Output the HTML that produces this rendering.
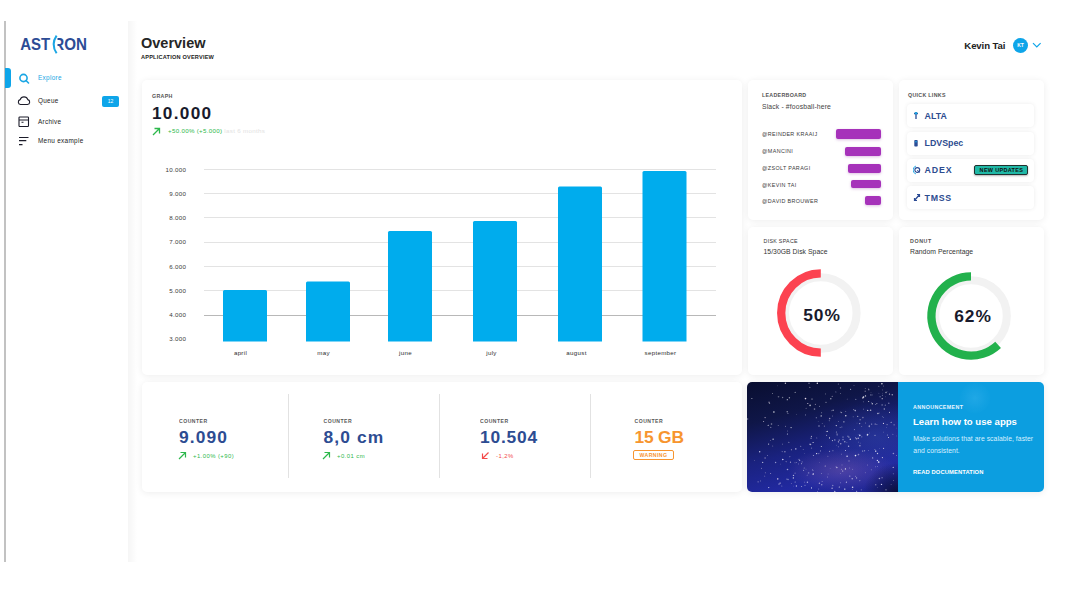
<!DOCTYPE html>
<html><head><meta charset="utf-8">
<style>
*{margin:0;padding:0;box-sizing:border-box}
html,body{width:1068px;height:598px;overflow:hidden;background:#fff;font-family:"Liberation Sans",sans-serif;color:#1c1c2a}
.abs{position:absolute;white-space:nowrap;line-height:1}
#vline{position:absolute;left:4px;top:21px;width:2px;height:541px;background:#c2c2c2}
#side{position:absolute;left:6px;top:21px;width:122px;height:541px;background:#fff}
#sideshadow{position:absolute;left:127px;top:21px;width:10px;height:541px;background:linear-gradient(to right,rgba(0,0,0,0.045),rgba(0,0,0,0))}
.card{position:absolute;background:#fff;border-radius:5px;box-shadow:0 1px 7px rgba(0,0,0,0.075)}
.lbl{font-size:5.3px;font-weight:bold;color:#555;letter-spacing:0.3px}
.nav{font-size:6.4px;color:#222;letter-spacing:0.3px}
.ql{position:absolute;left:8px;width:127px;height:23px;border-radius:4px;background:#fff;box-shadow:0 0 4px rgba(0,0,0,0.08)}
.qlt{position:absolute;left:17.6px;top:7.5px;font-size:8.8px;font-weight:bold;color:#2d4c90;line-height:1;letter-spacing:0px}
.lbn{position:absolute;left:14px;font-size:5.4px;color:#3a3a3a;line-height:1;white-space:nowrap;letter-spacing:0.36px}
.lbb{position:absolute;right:12px;height:8px;border-radius:2px;background:#a632ba;box-shadow:0 1px 3px rgba(120,0,140,0.25)}
.cl{font-size:5.1px;color:#3a3a3a;font-weight:bold;letter-spacing:0.5px;opacity:0.85}
.cv{font-size:17.4px;font-weight:bold;color:#2d4c92;letter-spacing:1.1px}
.cd{font-size:5.9px;color:#2db84c;letter-spacing:0.45px}
</style></head><body>
<div id="vline"></div>
<div id="sideshadow"></div>
<div id="side"></div>

<!-- logo -->
<svg class="abs" style="left:0;top:0" width="100" height="60" viewBox="0 0 100 60">
<g font-family="Liberation Sans" font-weight="bold" font-size="16.3" fill="#2c4c95">
<text x="20.2" y="49.8" textLength="30" lengthAdjust="spacingAndGlyphs">AST</text>
<text x="53.2" y="49.8" textLength="33.7" lengthAdjust="spacingAndGlyphs">RON</text>
</g>
<rect x="52.5" y="37" width="5" height="14" fill="#fff"/>
<path d="M56.6 35.6 Q50.6 44.4 56.6 53.2" fill="none" stroke="#1aa6e4" stroke-width="2"/>
</svg>

<!-- nav -->
<div class="abs" style="left:5px;top:67.6px;width:6px;height:20.4px;background:#0ea5e9;border-radius:0 3px 3px 0"></div>
<svg class="abs" style="left:18px;top:73px" width="13" height="11" viewBox="0 0 13 11"><circle cx="5.5" cy="5" r="3.6" fill="none" stroke="#1aa6e4" stroke-width="1.6"/><path d="M8 7.5 L10.5 10" stroke="#1aa6e4" stroke-width="1.6" stroke-linecap="round"/></svg>
<div class="abs nav" style="left:38px;top:75px;color:#1aa6e4">Explore</div>
<svg class="abs" style="left:17px;top:95px" width="14" height="11" viewBox="0 0 14 11"><path d="M3.5 9.5 H10.5 A2.5 2.5 0 0 0 10.8 4.6 A4 4 0 0 0 3.2 4.6 A2.5 2.5 0 0 0 3.5 9.5 Z" fill="none" stroke="#1c1c2a" stroke-width="1.1"/></svg>
<div class="abs nav" style="left:38px;top:98px">Queue</div>
<div class="abs" style="left:102px;top:96px;width:17px;height:11px;border-radius:2px;background:#0ea5e9;color:#fff;font-size:5px;text-align:center;line-height:11px">12</div>
<svg class="abs" style="left:18px;top:116px" width="12" height="12" viewBox="0 0 12 12"><rect x="1" y="1" width="9.5" height="9.5" rx="0.8" fill="none" stroke="#1c1c2a" stroke-width="1.1"/><path d="M1 4 H10.5 M3.5 6.3 H5.5" stroke="#1c1c2a" stroke-width="1.1"/></svg>
<div class="abs nav" style="left:38px;top:118.5px">Archive</div>
<svg class="abs" style="left:18px;top:136px" width="12" height="10" viewBox="0 0 12 10"><path d="M1 1.5 H10.5 M1 4.6 H8.3 M1 8.6 H4.5" stroke="#1c1c2a" stroke-width="1.1"/></svg>
<div class="abs nav" style="left:38px;top:138px">Menu example</div>

<!-- header -->
<div class="abs" style="left:141px;top:36px;font-size:14.5px;font-weight:bold;color:#262626">Overview</div>
<div class="abs" style="left:141px;top:54.5px;font-size:5.6px;font-weight:bold;color:#222;letter-spacing:0.2px">APPLICATION OVERVIEW</div>
<div class="abs" style="left:964.3px;top:40.6px;font-size:9.6px;font-weight:bold;color:#222;letter-spacing:-0.1px">Kevin Tai</div>
<div class="abs" style="left:1013px;top:38px;width:15px;height:15px;border-radius:50%;background:#0ea5e9;color:#fff;font-size:5px;font-weight:bold;text-align:center;line-height:15px">KT</div>
<svg class="abs" style="left:1032px;top:42px" width="10" height="7" viewBox="0 0 10 7"><path d="M1 1.2 L4.8 5 L8.6 1.2" fill="none" stroke="#0ea5e9" stroke-width="1.2"/></svg>

<!-- graph card -->
<div class="card" style="left:142px;top:80px;width:600px;height:295px">
  <div class="abs lbl" style="left:10px;top:13.5px">GRAPH</div>
  <div class="abs" style="left:10px;top:25px;font-size:17.2px;font-weight:bold;color:#191a2c;letter-spacing:1.3px">10.000</div>
  <svg class="abs" style="left:10px;top:47px" width="9" height="9" viewBox="0 0 9 9"><path d="M1 8 L7.5 1.5 M2.5 1.5 H7.5 V6.5" fill="none" stroke="#2db84c" stroke-width="1.3"/></svg>
  <div class="abs" style="left:26px;top:48.4px;font-size:6.2px;color:#2db84c;letter-spacing:0.3px">+50.00% (+5.000) <span style="color:#e2e2e2">last 6 months</span></div>
</div>
<svg class="abs" style="left:142px;top:80px" width="600" height="295" viewBox="142 80 600 295">
  <g stroke="#e3e3e3" stroke-width="1">
    <line x1="204" x2="716" y1="169.5" y2="169.5"/>
    <line x1="204" x2="716" y1="193.5" y2="193.5"/>
    <line x1="204" x2="716" y1="217.5" y2="217.5"/>
    <line x1="204" x2="716" y1="242.5" y2="242.5"/>
    <line x1="204" x2="716" y1="266.5" y2="266.5"/>
    <line x1="204" x2="716" y1="290.5" y2="290.5"/>
  </g>
  <line x1="204" x2="716" y1="315.5" y2="315.5" stroke="#b8b8b8" stroke-width="1"/>
  <g fill="#00aced">
    <path d="M223 341.5 V291.5 Q223 290 224.5 290 H265.5 Q267 290 267 291.5 V341.5 Z"/>
    <path d="M306 341.5 V283 Q306 281.5 307.5 281.5 H348.5 Q350 281.5 350 283 V341.5 Z"/>
    <path d="M388 341.5 V232.5 Q388 231 389.5 231 H430.5 Q432 231 432 232.5 V341.5 Z"/>
    <path d="M473 341.5 V222.5 Q473 221 474.5 221 H515.5 Q517 221 517 222.5 V341.5 Z"/>
    <path d="M558 341.5 V188 Q558 186.5 559.5 186.5 H600.5 Q602 186.5 602 188 V341.5 Z"/>
    <path d="M642.5 341.5 V172.5 Q642.5 171 644 171 H685 Q686.5 171 686.5 172.5 V341.5 Z"/>
  </g>
  <g font-family="Liberation Sans" font-size="6.2" fill="#3a3a3a" text-anchor="end" letter-spacing="0.3">
    <text x="186.3" y="171.8">10.000</text>
    <text x="186.3" y="195.8">9.000</text>
    <text x="186.3" y="220">8.000</text>
    <text x="186.3" y="244.3">7.000</text>
    <text x="186.3" y="268.6">6.000</text>
    <text x="186.3" y="292.8">5.000</text>
    <text x="186.3" y="317.3">4.000</text>
    <text x="186.3" y="340.6">3.000</text>
  </g>
  <g font-family="Liberation Sans" font-size="6.2" fill="#2e2e2e" text-anchor="middle" letter-spacing="0.3" transform="translate(0,-0.5)">
    <text x="240.5" y="355.5">april</text>
    <text x="323.5" y="355.5">may</text>
    <text x="405.5" y="355.5">june</text>
    <text x="491.5" y="355.5">july</text>
    <text x="576.5" y="355.5">august</text>
    <text x="660.5" y="355.5">september</text>
  </g>
</svg>

<!-- leaderboard -->
<div class="card" style="left:748px;top:80px;width:145px;height:140px">
  <div class="abs lbl" style="left:14px;top:13.2px">LEADERBOARD</div>
  <div class="abs" style="left:14px;top:24.2px;font-size:6.8px;color:#444;letter-spacing:0.15px">Slack - #foosball-here</div>
  <div class="lbn" style="top:52.2px">@REINDER KRAAIJ</div>
  <div class="lbn" style="top:68.7px">@MANCINI</div>
  <div class="lbn" style="top:85.7px">@ZSOLT PARAGI</div>
  <div class="lbn" style="top:102.7px">@KEVIN TAI</div>
  <div class="lbn" style="top:119.2px">@DAVID BROUWER</div>
  <div class="lbb" style="top:49px;width:45px;height:9.6px"></div>
  <div class="lbb" style="top:66.8px;width:36.5px;height:9px"></div>
  <div class="lbb" style="top:83.6px;width:33px;height:9px"></div>
  <div class="lbb" style="top:99.7px;width:30px;height:8.8px"></div>
  <div class="lbb" style="top:116px;width:16.5px;height:8.8px"></div>
</div>

<!-- quick links -->
<div class="card" style="left:899px;top:80px;width:145px;height:140px">
  <div class="abs lbl" style="left:9px;top:13.2px">QUICK LINKS</div>
  <div class="ql" style="top:24px"><svg class="abs" style="left:6px;top:7px" width="6" height="9" viewBox="0 0 6 9"><path d="M3 1 V8 M1 2.5 H5" stroke="#2c4c95" stroke-width="1.3"/><circle cx="3" cy="2.2" r="1.2" fill="#1aa6e4"/></svg><div class="qlt">ALTA</div></div>
  <div class="ql" style="top:51.5px"><svg class="abs" style="left:6px;top:7.5px" width="6" height="9" viewBox="0 0 6 9"><rect x="1.3" y="1" width="3.4" height="6.5" rx="0.8" fill="#2c4c95"/><rect x="2.3" y="2" width="1.4" height="1.4" fill="#1aa6e4"/></svg><div class="qlt">LDVSpec</div></div>
  <div class="ql" style="top:78.5px"><svg class="abs" style="left:5.5px;top:6.5px" width="8" height="10" viewBox="0 0 8 10"><circle cx="4.3" cy="5" r="2.4" fill="none" stroke="#2c4c95" stroke-width="1.2"/><path d="M3 1 A4.2 4.2 0 0 0 3 9" fill="none" stroke="#1aa6e4" stroke-width="0.9"/><path d="M4.3 5 L6.5 7.5" stroke="#2c4c95" stroke-width="1"/></svg><div class="qlt" style="letter-spacing:0.9px">ADEX</div>
    <div class="abs" style="left:67.3px;top:6.6px;width:54.2px;height:10.3px;background:#1fb8a6;border:1px solid #22302f;border-radius:2px;font-size:5.5px;font-weight:bold;color:#111;text-align:center;line-height:8.3px;box-shadow:0 1px 2px rgba(0,0,0,0.3);letter-spacing:0.3px">NEW UPDATES</div></div>
  <div class="ql" style="top:106px"><svg class="abs" style="left:5.5px;top:7px" width="8" height="9" viewBox="0 0 8 9"><path d="M1.5 7.5 L6.5 1.5 M4 1.5 H6.5 V4 M1.5 5 V7.5 H4" fill="none" stroke="#2c4c95" stroke-width="1.2"/></svg><div class="qlt" style="letter-spacing:0.7px">TMSS</div></div>
</div>

<!-- disk space -->
<div class="card" style="left:748px;top:227px;width:145px;height:148px">
  <div class="abs lbl" style="left:15.5px;top:12px;font-weight:normal;color:#333">DISK SPACE</div>
  <div class="abs" style="left:15.5px;top:22px;font-size:6.8px;color:#333;letter-spacing:0.05px">15/30GB Disk Space</div>
</div>
<svg class="abs" style="left:760px;top:255px" width="120" height="120" viewBox="760 255 120 120">
  <circle cx="820.8" cy="313" r="35.8" fill="none" stroke="#f2f2f2" stroke-width="8.1"/>
  <path d="M820.8 273.4 A39.6 39.6 0 0 0 820.8 352.6" fill="none" stroke="#fc4250" stroke-width="8.3"/>
  <text x="822" y="320.7" font-family="Liberation Sans" font-weight="bold" font-size="17.4" fill="#191a2c" text-anchor="middle" letter-spacing="0.9">50%</text>
</svg>

<!-- donut -->
<div class="card" style="left:899px;top:227px;width:145px;height:148px">
  <div class="abs lbl" style="left:11px;top:12px;letter-spacing:0.6px">DONUT</div>
  <div class="abs" style="left:11px;top:22px;font-size:6.8px;color:#333;letter-spacing:0.05px">Random Percentage</div>
</div>
<svg class="abs" style="left:910px;top:255px" width="120" height="120" viewBox="910 255 120 120">
  <circle cx="971" cy="316" r="35.8" fill="none" stroke="#f2f2f2" stroke-width="8.1"/>
  <path d="M971 276.40 A39.6 39.6 0 1 0 998.11 344.87" fill="none" stroke="#22b14c" stroke-width="8.3"/>
  <text x="973" y="321.9" font-family="Liberation Sans" font-weight="bold" font-size="17.4" fill="#191a2c" text-anchor="middle" letter-spacing="0.9">62%</text>
</svg>

<!-- counters -->
<div class="card" style="left:142px;top:381.5px;width:600px;height:110px">
  <div class="abs" style="left:145.5px;top:12.5px;width:1px;height:84px;background:#e2e2e2"></div>
  <div class="abs" style="left:297px;top:12.5px;width:1px;height:84px;background:#e2e2e2"></div>
  <div class="abs" style="left:448px;top:12.5px;width:1px;height:84px;background:#e2e2e2"></div>

  <div class="abs cl" style="left:37px;top:37.5px">COUNTER</div>
  <div class="abs cv" style="left:37px;top:47px">9.090</div>
  <svg class="abs" style="left:35.5px;top:69.5px" width="9" height="9" viewBox="0 0 9 9"><path d="M1 8 L7.5 1.5 M2.5 1.5 H7.5 V6.5" fill="none" stroke="#2db84c" stroke-width="1.2"/></svg>
  <div class="abs cd" style="left:51px;top:72px">+1.00% (+90)</div>

  <div class="abs cl" style="left:181.5px;top:37.5px">COUNTER</div>
  <div class="abs cv" style="left:181.5px;top:47px">8,0 cm</div>
  <svg class="abs" style="left:180px;top:69.5px" width="9" height="9" viewBox="0 0 9 9"><path d="M1 8 L7.5 1.5 M2.5 1.5 H7.5 V6.5" fill="none" stroke="#2db84c" stroke-width="1.2"/></svg>
  <div class="abs cd" style="left:195px;top:72px">+0.01 cm</div>

  <div class="abs cl" style="left:338px;top:37.5px">COUNTER</div>
  <div class="abs cv" style="left:338px;top:47px;letter-spacing:0.8px">10.504</div>
  <svg class="abs" style="left:339px;top:69.5px" width="9" height="9" viewBox="0 0 9 9"><path d="M7.5 1.5 L1.5 7.5 M1.5 2.5 V7.5 H6.5" fill="none" stroke="#f34a4a" stroke-width="1.2"/></svg>
  <div class="abs cd" style="left:354px;top:72px;color:#f34a4a">-1,2%</div>

  <div class="abs cl" style="left:492.5px;top:37.5px">COUNTER</div>
  <div class="abs cv" style="left:492.5px;top:47px;color:#f7952f;letter-spacing:-0.2px">15 GB</div>
  <div class="abs" style="left:491px;top:68px;width:41px;height:10px;border:1px solid #f7952f;border-radius:2px;font-size:5.2px;font-weight:bold;color:#f7952f;text-align:center;line-height:8px;letter-spacing:0.4px">WARNING</div>
</div>

<!-- announcement -->
<div class="card" style="left:747px;top:381.5px;width:297px;height:110px;overflow:hidden">
  <div class="abs" style="left:0;top:0;width:150.5px;height:111px;background:radial-gradient(ellipse 34px 30px at 150px 111px,rgba(8,12,45,0.85),rgba(8,12,45,0) 100%),radial-gradient(ellipse 55px 22px at 95px 88px,rgba(120,90,170,0.5),rgba(120,90,170,0) 100%),radial-gradient(ellipse 60px 35px at 130px 55px,rgba(50,70,170,0.45),rgba(50,70,170,0) 100%),linear-gradient(165deg,#090e30 0%,#0f1648 28%,#1a2280 55%,#2129a0 78%,#1f2590 100%)"></div>
  <svg class="abs" style="left:0;top:0" width="150" height="111" viewBox="0 0 150 111"><g><circle cx="69.8" cy="55.9" r="0.45" fill="#e6e6ff" fill-opacity="0.83"/><circle cx="94.5" cy="87.2" r="0.5" fill="#fff" fill-opacity="0.44"/><circle cx="89.3" cy="43.6" r="0.7" fill="#fff" fill-opacity="0.72"/><circle cx="93.5" cy="91.5" r="0.4" fill="#fff" fill-opacity="0.46"/><circle cx="89.9" cy="85.6" r="0.6" fill="#fff" fill-opacity="0.86"/><circle cx="96.0" cy="55.0" r="0.55" fill="#e6e6ff" fill-opacity="0.74"/><circle cx="106.2" cy="34.7" r="0.5" fill="#fff" fill-opacity="0.37"/><circle cx="60.1" cy="93.1" r="0.4" fill="#fff" fill-opacity="0.86"/><circle cx="32.0" cy="102.0" r="0.55" fill="#e6e6ff" fill-opacity="0.94"/><circle cx="63.0" cy="62.3" r="0.7" fill="#fff" fill-opacity="0.51"/><circle cx="138.4" cy="14.8" r="0.4" fill="#e6e6ff" fill-opacity="0.39"/><circle cx="28.6" cy="80.5" r="0.7" fill="#e6e6ff" fill-opacity="0.58"/><circle cx="63.1" cy="23.4" r="0.8" fill="#fff" fill-opacity="0.71"/><circle cx="49.3" cy="32.6" r="0.4" fill="#fff" fill-opacity="0.48"/><circle cx="108.8" cy="17.4" r="0.6" fill="#e6e6ff" fill-opacity="0.47"/><circle cx="132.3" cy="66.4" r="0.4" fill="#f3e6f3" fill-opacity="0.42"/><circle cx="35.8" cy="77.5" r="0.8" fill="#e6e6ff" fill-opacity="0.89"/><circle cx="127.9" cy="67.6" r="0.45" fill="#fff" fill-opacity="0.80"/><circle cx="40.4" cy="49.0" r="0.45" fill="#fff" fill-opacity="0.52"/><circle cx="49.6" cy="80.6" r="0.45" fill="#fff" fill-opacity="0.70"/><circle cx="71.2" cy="39.3" r="0.4" fill="#fff" fill-opacity="0.36"/><circle cx="72.3" cy="80.4" r="0.4" fill="#f3e6f3" fill-opacity="0.40"/><circle cx="105.6" cy="87.3" r="0.5" fill="#e6e6ff" fill-opacity="0.40"/><circle cx="135.1" cy="95.8" r="0.8" fill="#e6e6ff" fill-opacity="0.37"/><circle cx="85.9" cy="68.7" r="0.6" fill="#fff" fill-opacity="0.36"/><circle cx="132.0" cy="80.1" r="0.7" fill="#e6e6ff" fill-opacity="0.77"/><circle cx="66.1" cy="92.2" r="0.8" fill="#f3e6f3" fill-opacity="0.66"/><circle cx="90.2" cy="52.9" r="0.7" fill="#e6e6ff" fill-opacity="0.42"/><circle cx="38.4" cy="1.2" r="0.7" fill="#fff" fill-opacity="0.72"/><circle cx="113.1" cy="37.7" r="0.55" fill="#f3e6f3" fill-opacity="0.89"/><circle cx="120.6" cy="83.0" r="0.45" fill="#f3e6f3" fill-opacity="0.58"/><circle cx="31.5" cy="14.8" r="0.8" fill="#fff" fill-opacity="0.37"/><circle cx="142.5" cy="30.4" r="0.55" fill="#fff" fill-opacity="0.63"/><circle cx="124.6" cy="42.1" r="0.7" fill="#e6e6ff" fill-opacity="0.54"/><circle cx="48.1" cy="91.2" r="0.6" fill="#f3e6f3" fill-opacity="0.37"/><circle cx="85.6" cy="34.0" r="0.4" fill="#e6e6ff" fill-opacity="0.73"/><circle cx="35.6" cy="15.5" r="0.7" fill="#fff" fill-opacity="0.42"/><circle cx="94.5" cy="72.1" r="0.4" fill="#fff" fill-opacity="0.76"/><circle cx="123.6" cy="28.2" r="0.8" fill="#fff" fill-opacity="0.63"/><circle cx="26.9" cy="30.0" r="0.7" fill="#fff" fill-opacity="0.92"/><circle cx="59.0" cy="87.1" r="0.4" fill="#e6e6ff" fill-opacity="0.60"/><circle cx="136.5" cy="41.4" r="0.6" fill="#f3e6f3" fill-opacity="0.83"/><circle cx="69.6" cy="71.6" r="0.7" fill="#fff" fill-opacity="0.87"/><circle cx="48.1" cy="100.1" r="0.5" fill="#fff" fill-opacity="0.65"/><circle cx="66.1" cy="60.5" r="0.55" fill="#fff" fill-opacity="0.90"/><circle cx="121.4" cy="7.0" r="0.45" fill="#fff" fill-opacity="0.67"/><circle cx="70.6" cy="110.0" r="0.6" fill="#e6e6ff" fill-opacity="0.85"/><circle cx="43.5" cy="80.2" r="0.6" fill="#f3e6f3" fill-opacity="0.66"/><circle cx="135.1" cy="22.9" r="0.6" fill="#e6e6ff" fill-opacity="0.66"/><circle cx="77.4" cy="44.1" r="0.6" fill="#fff" fill-opacity="0.42"/><circle cx="103.6" cy="7.2" r="0.55" fill="#e6e6ff" fill-opacity="0.90"/><circle cx="40.4" cy="52.0" r="0.55" fill="#e6e6ff" fill-opacity="0.89"/><circle cx="78.7" cy="11.9" r="0.4" fill="#fff" fill-opacity="0.91"/><circle cx="105.3" cy="107.5" r="0.45" fill="#f3e6f3" fill-opacity="0.49"/><circle cx="15.7" cy="80.4" r="0.6" fill="#fff" fill-opacity="0.72"/><circle cx="105.2" cy="96.7" r="0.7" fill="#fff" fill-opacity="0.60"/><circle cx="80.7" cy="95.0" r="0.45" fill="#fff" fill-opacity="0.67"/><circle cx="135.4" cy="34.7" r="0.45" fill="#fff" fill-opacity="0.48"/><circle cx="133.1" cy="14.7" r="0.7" fill="#e6e6ff" fill-opacity="0.40"/><circle cx="118.5" cy="13.9" r="0.7" fill="#fff" fill-opacity="0.83"/><circle cx="145.3" cy="12.7" r="0.8" fill="#fff" fill-opacity="0.56"/><circle cx="120.4" cy="53.0" r="0.8" fill="#e6e6ff" fill-opacity="0.68"/><circle cx="22.0" cy="20.3" r="0.8" fill="#f3e6f3" fill-opacity="0.44"/><circle cx="139.0" cy="10.5" r="0.7" fill="#fff" fill-opacity="0.63"/><circle cx="64.5" cy="66.1" r="0.7" fill="#fff" fill-opacity="0.37"/><circle cx="60.8" cy="21.5" r="0.6" fill="#f3e6f3" fill-opacity="0.83"/><circle cx="129.1" cy="69.2" r="0.6" fill="#f3e6f3" fill-opacity="0.46"/><circle cx="120.7" cy="28.4" r="0.7" fill="#fff" fill-opacity="0.80"/><circle cx="122.2" cy="44.6" r="0.6" fill="#e6e6ff" fill-opacity="0.77"/><circle cx="114.8" cy="44.6" r="0.4" fill="#f3e6f3" fill-opacity="0.83"/><circle cx="70.3" cy="1.2" r="0.7" fill="#fff" fill-opacity="0.89"/><circle cx="34.8" cy="103.9" r="0.5" fill="#e6e6ff" fill-opacity="0.48"/><circle cx="85.4" cy="58.6" r="0.55" fill="#fff" fill-opacity="0.74"/><circle cx="114.3" cy="107.8" r="0.6" fill="#fff" fill-opacity="0.41"/><circle cx="38.5" cy="44.2" r="0.45" fill="#fff" fill-opacity="0.74"/><circle cx="82.5" cy="55.9" r="0.6" fill="#fff" fill-opacity="0.86"/><circle cx="95.7" cy="89.0" r="0.6" fill="#fff" fill-opacity="0.75"/><circle cx="58.0" cy="103.2" r="0.45" fill="#fff" fill-opacity="0.86"/><circle cx="64.4" cy="54.4" r="0.55" fill="#f3e6f3" fill-opacity="0.71"/><circle cx="79.6" cy="53.2" r="0.5" fill="#f3e6f3" fill-opacity="0.75"/><circle cx="94.9" cy="45.0" r="0.4" fill="#e6e6ff" fill-opacity="0.89"/><circle cx="71.6" cy="107.0" r="0.6" fill="#e6e6ff" fill-opacity="0.41"/><circle cx="21.7" cy="105.6" r="0.7" fill="#e6e6ff" fill-opacity="0.42"/><circle cx="68.4" cy="22.4" r="0.6" fill="#f3e6f3" fill-opacity="0.44"/><circle cx="66.4" cy="73.5" r="0.5" fill="#e6e6ff" fill-opacity="0.73"/><circle cx="54.6" cy="81.8" r="0.45" fill="#fff" fill-opacity="0.92"/><circle cx="117.6" cy="68.7" r="0.5" fill="#fff" fill-opacity="0.72"/><circle cx="95.0" cy="82.9" r="0.45" fill="#fff" fill-opacity="0.65"/><circle cx="131.8" cy="4.3" r="0.5" fill="#fff" fill-opacity="0.51"/><circle cx="93.5" cy="11.3" r="0.4" fill="#fff" fill-opacity="0.80"/><circle cx="82.6" cy="69.4" r="0.55" fill="#f3e6f3" fill-opacity="0.56"/><circle cx="51.6" cy="81.9" r="0.4" fill="#e6e6ff" fill-opacity="0.83"/><circle cx="121.4" cy="68.6" r="0.45" fill="#f3e6f3" fill-opacity="0.62"/><circle cx="58.5" cy="16.6" r="0.8" fill="#f3e6f3" fill-opacity="0.94"/><circle cx="69.3" cy="35.7" r="0.55" fill="#e6e6ff" fill-opacity="0.69"/><circle cx="122.3" cy="51.0" r="0.4" fill="#fff" fill-opacity="0.40"/><circle cx="136.6" cy="66.4" r="0.55" fill="#f3e6f3" fill-opacity="0.78"/><circle cx="42.4" cy="15.7" r="0.7" fill="#fff" fill-opacity="0.55"/><circle cx="135.4" cy="75.6" r="0.6" fill="#f3e6f3" fill-opacity="0.83"/><circle cx="109.5" cy="56.8" r="0.8" fill="#f3e6f3" fill-opacity="0.57"/><circle cx="101.6" cy="64.3" r="0.7" fill="#e6e6ff" fill-opacity="0.69"/><circle cx="81.1" cy="92.0" r="0.45" fill="#e6e6ff" fill-opacity="0.40"/><circle cx="132.1" cy="31.0" r="0.6" fill="#fff" fill-opacity="0.38"/><circle cx="85.1" cy="106.3" r="0.8" fill="#f3e6f3" fill-opacity="0.60"/><circle cx="118.2" cy="9.2" r="0.7" fill="#f3e6f3" fill-opacity="0.41"/><circle cx="12.7" cy="69.8" r="0.7" fill="#e6e6ff" fill-opacity="0.84"/><circle cx="78.2" cy="84.1" r="0.5" fill="#f3e6f3" fill-opacity="0.83"/><circle cx="100.9" cy="54.3" r="0.7" fill="#fff" fill-opacity="0.39"/><circle cx="61.6" cy="90.9" r="0.8" fill="#e6e6ff" fill-opacity="0.35"/><circle cx="96.0" cy="57.6" r="0.8" fill="#e6e6ff" fill-opacity="0.42"/><circle cx="137.3" cy="27.0" r="0.7" fill="#fff" fill-opacity="0.58"/><circle cx="41.1" cy="97.5" r="0.7" fill="#fff" fill-opacity="0.42"/><circle cx="116.4" cy="19.7" r="0.55" fill="#e6e6ff" fill-opacity="0.36"/><circle cx="136.4" cy="4.0" r="0.45" fill="#fff" fill-opacity="0.57"/><circle cx="90.0" cy="51.9" r="0.55" fill="#f3e6f3" fill-opacity="0.46"/><circle cx="60.4" cy="100.2" r="0.7" fill="#e6e6ff" fill-opacity="0.68"/><circle cx="128.0" cy="53.3" r="0.5" fill="#fff" fill-opacity="0.75"/><circle cx="72.4" cy="24.3" r="0.45" fill="#e6e6ff" fill-opacity="0.83"/><circle cx="118.2" cy="6.4" r="0.4" fill="#f3e6f3" fill-opacity="0.87"/><circle cx="67.5" cy="27.1" r="0.8" fill="#fff" fill-opacity="0.44"/><circle cx="115.8" cy="15.9" r="0.8" fill="#f3e6f3" fill-opacity="0.66"/><circle cx="92.2" cy="58.1" r="0.7" fill="#f3e6f3" fill-opacity="0.63"/><circle cx="102.3" cy="86.0" r="0.4" fill="#e6e6ff" fill-opacity="0.68"/><circle cx="23.6" cy="91.5" r="0.5" fill="#f3e6f3" fill-opacity="0.59"/><circle cx="149.6" cy="73.4" r="0.4" fill="#fff" fill-opacity="0.76"/><circle cx="100.1" cy="74.3" r="0.8" fill="#e6e6ff" fill-opacity="0.85"/><circle cx="35.6" cy="62.1" r="0.4" fill="#fff" fill-opacity="0.86"/><circle cx="135.2" cy="16.7" r="0.6" fill="#f3e6f3" fill-opacity="0.80"/><circle cx="113.2" cy="61.1" r="0.45" fill="#fff" fill-opacity="0.47"/><circle cx="49.4" cy="104.0" r="0.7" fill="#e6e6ff" fill-opacity="0.73"/><circle cx="124.0" cy="10.2" r="0.4" fill="#fff" fill-opacity="0.43"/><circle cx="88.9" cy="9.9" r="0.45" fill="#e6e6ff" fill-opacity="0.94"/><circle cx="64.1" cy="56.3" r="0.8" fill="#e6e6ff" fill-opacity="0.44"/><circle cx="72.4" cy="101.3" r="0.7" fill="#f3e6f3" fill-opacity="0.59"/><circle cx="91.3" cy="2.0" r="0.5" fill="#e6e6ff" fill-opacity="0.53"/><circle cx="118.3" cy="90.8" r="0.45" fill="#f3e6f3" fill-opacity="0.50"/><circle cx="82.2" cy="38.8" r="0.45" fill="#fff" fill-opacity="0.69"/><circle cx="125.3" cy="21.7" r="0.7" fill="#fff" fill-opacity="0.75"/><circle cx="39.9" cy="97.1" r="0.7" fill="#fff" fill-opacity="0.43"/><circle cx="18.4" cy="90.7" r="0.5" fill="#f3e6f3" fill-opacity="0.49"/><circle cx="124.6" cy="20.4" r="0.4" fill="#e6e6ff" fill-opacity="0.62"/><circle cx="98.8" cy="33.8" r="0.7" fill="#fff" fill-opacity="0.89"/><circle cx="23.8" cy="45.3" r="0.6" fill="#e6e6ff" fill-opacity="0.58"/><circle cx="26.1" cy="57.2" r="0.6" fill="#fff" fill-opacity="0.91"/><circle cx="21.7" cy="105.5" r="0.55" fill="#e6e6ff" fill-opacity="0.56"/><circle cx="112.8" cy="53.4" r="0.8" fill="#e6e6ff" fill-opacity="0.89"/><circle cx="123.8" cy="12.9" r="0.6" fill="#e6e6ff" fill-opacity="0.55"/><circle cx="44.4" cy="67.8" r="0.55" fill="#f3e6f3" fill-opacity="0.71"/><circle cx="132.4" cy="96.5" r="0.8" fill="#e6e6ff" fill-opacity="0.62"/><circle cx="145.9" cy="52.3" r="0.45" fill="#e6e6ff" fill-opacity="0.68"/><circle cx="109.6" cy="95.9" r="0.6" fill="#fff" fill-opacity="0.60"/><circle cx="33.3" cy="82.1" r="0.4" fill="#fff" fill-opacity="0.41"/><circle cx="122.3" cy="43.7" r="0.6" fill="#f3e6f3" fill-opacity="0.49"/><circle cx="74.8" cy="102.7" r="0.55" fill="#fff" fill-opacity="0.88"/><circle cx="44.3" cy="101.5" r="0.45" fill="#f3e6f3" fill-opacity="0.54"/><circle cx="134.9" cy="1.8" r="0.7" fill="#fff" fill-opacity="0.95"/><circle cx="146.4" cy="71.5" r="0.8" fill="#f3e6f3" fill-opacity="0.54"/><circle cx="130.4" cy="78.4" r="0.7" fill="#e6e6ff" fill-opacity="0.92"/><circle cx="18.1" cy="76.0" r="0.7" fill="#f3e6f3" fill-opacity="0.49"/><circle cx="118.6" cy="41.0" r="0.4" fill="#fff" fill-opacity="0.70"/><circle cx="146.6" cy="98.5" r="0.45" fill="#fff" fill-opacity="0.52"/><circle cx="11.1" cy="99.8" r="0.6" fill="#f3e6f3" fill-opacity="0.52"/><circle cx="63.5" cy="62.5" r="0.8" fill="#fff" fill-opacity="0.46"/><circle cx="41.9" cy="60.3" r="0.45" fill="#fff" fill-opacity="0.94"/><circle cx="93.3" cy="100.8" r="0.4" fill="#e6e6ff" fill-opacity="0.91"/><circle cx="136.5" cy="35.3" r="0.4" fill="#fff" fill-opacity="0.66"/><circle cx="89.1" cy="84.8" r="0.55" fill="#e6e6ff" fill-opacity="0.49"/><circle cx="108.2" cy="28.6" r="0.8" fill="#e6e6ff" fill-opacity="0.70"/><circle cx="48.8" cy="66.9" r="0.8" fill="#e6e6ff" fill-opacity="0.61"/><circle cx="108.5" cy="94.2" r="0.4" fill="#fff" fill-opacity="0.89"/><circle cx="93.5" cy="5.9" r="0.7" fill="#f3e6f3" fill-opacity="0.54"/><circle cx="114.8" cy="54.8" r="0.6" fill="#f3e6f3" fill-opacity="0.45"/><circle cx="89.4" cy="50.0" r="0.55" fill="#fff" fill-opacity="0.57"/><circle cx="105.6" cy="105.3" r="0.8" fill="#fff" fill-opacity="0.81"/><circle cx="21.2" cy="43.2" r="0.55" fill="#fff" fill-opacity="0.91"/><circle cx="102.0" cy="78.9" r="0.6" fill="#f3e6f3" fill-opacity="0.49"/><circle cx="17.8" cy="94.1" r="0.4" fill="#f3e6f3" fill-opacity="0.91"/><circle cx="46.3" cy="104.1" r="0.45" fill="#e6e6ff" fill-opacity="0.37"/><circle cx="87.8" cy="109.4" r="0.6" fill="#fff" fill-opacity="0.77"/><circle cx="57.2" cy="85.9" r="0.5" fill="#fff" fill-opacity="0.50"/><circle cx="72.0" cy="44.0" r="0.8" fill="#e6e6ff" fill-opacity="0.54"/><circle cx="73.5" cy="68.9" r="0.55" fill="#e6e6ff" fill-opacity="0.47"/><circle cx="62.9" cy="5.2" r="0.5" fill="#fff" fill-opacity="0.72"/><circle cx="111.2" cy="56.3" r="0.7" fill="#f3e6f3" fill-opacity="0.78"/><circle cx="116.5" cy="15.1" r="0.8" fill="#fff" fill-opacity="0.89"/><circle cx="128.2" cy="42.0" r="0.6" fill="#f3e6f3" fill-opacity="0.75"/><circle cx="59.1" cy="26.2" r="0.45" fill="#fff" fill-opacity="0.66"/><circle cx="39.1" cy="79.8" r="0.45" fill="#f3e6f3" fill-opacity="0.88"/><circle cx="80.2" cy="49.4" r="0.6" fill="#fff" fill-opacity="0.87"/><circle cx="111.5" cy="72.6" r="0.8" fill="#f3e6f3" fill-opacity="0.48"/><circle cx="35.2" cy="69.6" r="0.55" fill="#e6e6ff" fill-opacity="0.42"/><circle cx="74.6" cy="30.8" r="0.55" fill="#fff" fill-opacity="0.47"/><circle cx="52.6" cy="78.4" r="0.7" fill="#e6e6ff" fill-opacity="0.56"/><circle cx="120.6" cy="52.6" r="0.8" fill="#fff" fill-opacity="0.68"/><circle cx="135.4" cy="13.2" r="0.55" fill="#e6e6ff" fill-opacity="0.51"/><circle cx="74.3" cy="64.4" r="0.5" fill="#fff" fill-opacity="0.88"/><circle cx="84.9" cy="28.8" r="0.45" fill="#e6e6ff" fill-opacity="0.74"/><circle cx="92.3" cy="105.0" r="0.6" fill="#fff" fill-opacity="0.77"/><circle cx="115.7" cy="69.0" r="0.55" fill="#fff" fill-opacity="0.72"/><circle cx="57.3" cy="100.1" r="0.45" fill="#f3e6f3" fill-opacity="0.76"/><circle cx="22.5" cy="21.2" r="0.7" fill="#fff" fill-opacity="0.48"/><circle cx="139.0" cy="107.8" r="0.6" fill="#fff" fill-opacity="0.65"/><circle cx="93.7" cy="61.7" r="0.8" fill="#f3e6f3" fill-opacity="0.55"/><circle cx="31.2" cy="43.6" r="0.45" fill="#fff" fill-opacity="0.84"/><circle cx="44.1" cy="45.6" r="0.7" fill="#fff" fill-opacity="0.67"/><circle cx="96.9" cy="39.8" r="0.6" fill="#fff" fill-opacity="0.79"/><circle cx="46.5" cy="93.4" r="0.7" fill="#fff" fill-opacity="0.64"/><circle cx="93.2" cy="45.4" r="0.5" fill="#e6e6ff" fill-opacity="0.50"/><circle cx="37.9" cy="69.8" r="0.7" fill="#f3e6f3" fill-opacity="0.55"/><circle cx="128.4" cy="22.5" r="0.45" fill="#e6e6ff" fill-opacity="0.69"/><circle cx="40.3" cy="17.7" r="0.6" fill="#fff" fill-opacity="0.75"/><circle cx="97.8" cy="107.1" r="0.7" fill="#fff" fill-opacity="0.91"/><circle cx="40.2" cy="29.8" r="0.7" fill="#fff" fill-opacity="0.59"/><circle cx="7.3" cy="78.5" r="0.4" fill="#f3e6f3" fill-opacity="0.47"/><circle cx="109.7" cy="109.3" r="0.5" fill="#e6e6ff" fill-opacity="0.89"/><circle cx="130.5" cy="71.5" r="0.7" fill="#fff" fill-opacity="0.72"/><circle cx="147.1" cy="42.8" r="0.6" fill="#fff" fill-opacity="0.52"/><circle cx="66.3" cy="91.7" r="0.5" fill="#e6e6ff" fill-opacity="0.88"/><circle cx="18.1" cy="35.6" r="0.6" fill="#f3e6f3" fill-opacity="0.69"/><circle cx="93.8" cy="30.1" r="0.55" fill="#f3e6f3" fill-opacity="0.47"/><circle cx="83.8" cy="16.7" r="0.8" fill="#fff" fill-opacity="0.54"/><circle cx="0.6" cy="37.0" r="0.8" fill="#e6e6ff" fill-opacity="0.47"/><circle cx="98.5" cy="68.5" r="0.5" fill="#e6e6ff" fill-opacity="0.87"/><circle cx="85.7" cy="103.5" r="0.8" fill="#fff" fill-opacity="0.37"/><circle cx="80.9" cy="74.2" r="0.4" fill="#f3e6f3" fill-opacity="0.80"/><circle cx="74.2" cy="33.9" r="0.7" fill="#fff" fill-opacity="0.81"/><circle cx="140.4" cy="53.0" r="0.55" fill="#fff" fill-opacity="0.50"/><circle cx="108.6" cy="55.7" r="0.5" fill="#e6e6ff" fill-opacity="0.73"/><circle cx="48.2" cy="10.4" r="0.7" fill="#fff" fill-opacity="0.46"/><circle cx="111.5" cy="60.1" r="0.45" fill="#fff" fill-opacity="0.56"/><circle cx="30.7" cy="96.9" r="0.8" fill="#f3e6f3" fill-opacity="0.70"/><circle cx="64.5" cy="105.9" r="0.55" fill="#fff" fill-opacity="0.82"/><circle cx="121.9" cy="7.7" r="0.5" fill="#f3e6f3" fill-opacity="0.88"/><circle cx="99.4" cy="100.2" r="0.6" fill="#e6e6ff" fill-opacity="0.72"/><circle cx="128.5" cy="69.1" r="0.6" fill="#fff" fill-opacity="0.90"/><circle cx="125.6" cy="75.9" r="0.7" fill="#e6e6ff" fill-opacity="0.63"/><circle cx="75.2" cy="41.3" r="0.4" fill="#fff" fill-opacity="0.66"/><circle cx="79.2" cy="49.7" r="0.4" fill="#f3e6f3" fill-opacity="0.71"/><circle cx="110.7" cy="34.4" r="0.6" fill="#fff" fill-opacity="0.59"/><circle cx="112.9" cy="98.7" r="0.45" fill="#fff" fill-opacity="0.85"/><circle cx="124.4" cy="87.7" r="0.5" fill="#fff" fill-opacity="0.39"/><circle cx="106.7" cy="27.6" r="0.55" fill="#fff" fill-opacity="0.47"/><circle cx="129.8" cy="21.6" r="0.7" fill="#fff" fill-opacity="0.49"/><circle cx="83.2" cy="86.6" r="0.45" fill="#e6e6ff" fill-opacity="0.39"/><circle cx="128.3" cy="84.8" r="0.4" fill="#fff" fill-opacity="0.83"/><circle cx="121.7" cy="19.6" r="0.5" fill="#fff" fill-opacity="0.92"/><circle cx="125.1" cy="12.9" r="0.55" fill="#e6e6ff" fill-opacity="0.37"/><circle cx="135.3" cy="7.9" r="0.45" fill="#f3e6f3" fill-opacity="0.67"/><circle cx="131.5" cy="80.0" r="0.7" fill="#e6e6ff" fill-opacity="0.95"/><circle cx="94.5" cy="30.6" r="0.7" fill="#fff" fill-opacity="0.48"/><circle cx="25.7" cy="63.9" r="0.5" fill="#f3e6f3" fill-opacity="0.42"/><circle cx="91.5" cy="39.3" r="0.4" fill="#f3e6f3" fill-opacity="0.76"/><circle cx="130.6" cy="84.7" r="0.4" fill="#e6e6ff" fill-opacity="0.73"/><circle cx="56.2" cy="67.4" r="0.45" fill="#fff" fill-opacity="0.65"/><circle cx="52.0" cy="77.4" r="0.6" fill="#fff" fill-opacity="0.42"/><circle cx="130.9" cy="31.5" r="0.7" fill="#fff" fill-opacity="0.74"/><circle cx="140.1" cy="42.6" r="0.6" fill="#fff" fill-opacity="0.48"/><circle cx="98.8" cy="29.4" r="0.4" fill="#fff" fill-opacity="0.75"/><circle cx="129.9" cy="42.7" r="0.4" fill="#fff" fill-opacity="0.84"/><circle cx="108.5" cy="73.6" r="0.8" fill="#fff" fill-opacity="0.92"/><circle cx="100.2" cy="17.1" r="0.45" fill="#f3e6f3" fill-opacity="0.63"/><circle cx="71.9" cy="71.7" r="0.45" fill="#e6e6ff" fill-opacity="0.94"/><circle cx="98.4" cy="86.9" r="0.6" fill="#fff" fill-opacity="0.94"/><circle cx="74.6" cy="91.3" r="0.4" fill="#fff" fill-opacity="0.80"/><circle cx="65.0" cy="17.1" r="0.5" fill="#fff" fill-opacity="0.92"/><circle cx="146.2" cy="85.4" r="0.6" fill="#fff" fill-opacity="0.69"/><circle cx="85.2" cy="14.3" r="0.6" fill="#f3e6f3" fill-opacity="0.54"/><circle cx="116.6" cy="27.1" r="0.4" fill="#e6e6ff" fill-opacity="0.94"/><circle cx="25.5" cy="11.5" r="0.4" fill="#fff" fill-opacity="0.84"/><circle cx="21.6" cy="62.1" r="0.6" fill="#fff" fill-opacity="0.72"/><circle cx="62.0" cy="1.2" r="0.8" fill="#e6e6ff" fill-opacity="0.42"/><circle cx="23.5" cy="58.4" r="0.4" fill="#fff" fill-opacity="0.65"/><circle cx="58.5" cy="32.9" r="0.6" fill="#e6e6ff" fill-opacity="0.42"/><circle cx="75.1" cy="99.4" r="0.5" fill="#f3e6f3" fill-opacity="0.51"/><circle cx="57.7" cy="71.4" r="0.4" fill="#fff" fill-opacity="0.38"/><circle cx="24.5" cy="42.0" r="0.8" fill="#fff" fill-opacity="0.48"/><circle cx="107.0" cy="3.6" r="0.45" fill="#e6e6ff" fill-opacity="0.66"/><circle cx="110.0" cy="41.1" r="0.4" fill="#f3e6f3" fill-opacity="0.35"/><circle cx="144.1" cy="40.2" r="0.5" fill="#fff" fill-opacity="0.85"/><circle cx="91.4" cy="64.8" r="0.55" fill="#f3e6f3" fill-opacity="0.42"/><circle cx="40.5" cy="87.5" r="0.8" fill="#fff" fill-opacity="0.57"/><circle cx="42.9" cy="74.8" r="0.45" fill="#f3e6f3" fill-opacity="0.85"/><circle cx="4.9" cy="16.4" r="0.5" fill="#fff" fill-opacity="0.74"/><circle cx="150.0" cy="53.9" r="0.4" fill="#f3e6f3" fill-opacity="0.68"/><circle cx="112.9" cy="63.8" r="0.7" fill="#f3e6f3" fill-opacity="0.64"/><circle cx="112.7" cy="41.6" r="0.55" fill="#e6e6ff" fill-opacity="0.83"/><circle cx="48.0" cy="80.8" r="0.4" fill="#f3e6f3" fill-opacity="0.92"/><circle cx="99.9" cy="60.3" r="0.4" fill="#fff" fill-opacity="0.59"/><circle cx="138.3" cy="23.2" r="0.6" fill="#fff" fill-opacity="0.43"/><circle cx="134.5" cy="102.4" r="0.7" fill="#e6e6ff" fill-opacity="0.91"/><circle cx="65.5" cy="87.9" r="0.55" fill="#fff" fill-opacity="0.41"/><circle cx="115.9" cy="35.6" r="0.8" fill="#f3e6f3" fill-opacity="0.45"/><circle cx="56.6" cy="88.3" r="0.55" fill="#e6e6ff" fill-opacity="0.69"/><circle cx="53.7" cy="64.2" r="0.55" fill="#e6e6ff" fill-opacity="0.55"/><circle cx="86.2" cy="28.3" r="0.8" fill="#fff" fill-opacity="0.50"/><circle cx="107.5" cy="47.6" r="0.6" fill="#e6e6ff" fill-opacity="0.46"/><circle cx="136.4" cy="50.1" r="0.45" fill="#fff" fill-opacity="0.46"/><circle cx="101.9" cy="55.1" r="0.7" fill="#fff" fill-opacity="0.56"/><circle cx="82.7" cy="36.6" r="0.8" fill="#f3e6f3" fill-opacity="0.56"/><circle cx="14.7" cy="86.2" r="0.45" fill="#f3e6f3" fill-opacity="0.87"/><circle cx="54.6" cy="104.6" r="0.5" fill="#f3e6f3" fill-opacity="0.71"/><circle cx="16.6" cy="39.4" r="0.5" fill="#f3e6f3" fill-opacity="0.75"/><circle cx="40.9" cy="31.4" r="0.6" fill="#e6e6ff" fill-opacity="0.44"/><circle cx="91.4" cy="59.8" r="0.6" fill="#f3e6f3" fill-opacity="0.80"/><circle cx="97.8" cy="59.7" r="0.7" fill="#fff" fill-opacity="0.57"/><circle cx="141.5" cy="55.6" r="0.5" fill="#fff" fill-opacity="0.88"/><circle cx="142.5" cy="12.1" r="0.7" fill="#f3e6f3" fill-opacity="0.80"/><circle cx="135.3" cy="11.2" r="0.4" fill="#f3e6f3" fill-opacity="0.47"/><circle cx="46.4" cy="95.9" r="0.7" fill="#fff" fill-opacity="0.75"/><circle cx="102.8" cy="94.1" r="0.6" fill="#e6e6ff" fill-opacity="0.68"/><circle cx="79.0" cy="20.3" r="0.5" fill="#fff" fill-opacity="0.72"/><circle cx="131.9" cy="11.2" r="0.45" fill="#e6e6ff" fill-opacity="0.40"/><circle cx="13.4" cy="98.9" r="0.45" fill="#fff" fill-opacity="0.77"/><circle cx="128.8" cy="102.8" r="0.55" fill="#f3e6f3" fill-opacity="0.83"/><circle cx="140.0" cy="9.5" r="0.4" fill="#f3e6f3" fill-opacity="0.42"/><circle cx="130.4" cy="105.3" r="0.4" fill="#fff" fill-opacity="0.44"/><circle cx="103.3" cy="57.2" r="0.8" fill="#fff" fill-opacity="0.75"/><circle cx="146.3" cy="91.7" r="0.5" fill="#e6e6ff" fill-opacity="0.48"/><circle cx="87.8" cy="57.9" r="0.7" fill="#fff" fill-opacity="0.56"/><circle cx="139.7" cy="45.6" r="0.45" fill="#e6e6ff" fill-opacity="0.50"/><circle cx="33.1" cy="101.1" r="0.7" fill="#f3e6f3" fill-opacity="0.74"/><circle cx="89.3" cy="63.2" r="0.4" fill="#fff" fill-opacity="0.46"/><circle cx="30.7" cy="3.8" r="0.4" fill="#fff" fill-opacity="0.40"/><circle cx="20.7" cy="73.7" r="0.4" fill="#e6e6ff" fill-opacity="0.94"/><circle cx="150.0" cy="46.1" r="0.45" fill="#fff" fill-opacity="0.55"/><circle cx="111.2" cy="52.3" r="0.4" fill="#fff" fill-opacity="0.38"/><circle cx="144.1" cy="102.5" r="0.45" fill="#f3e6f3" fill-opacity="0.44"/><circle cx="141.8" cy="21.2" r="0.7" fill="#e6e6ff" fill-opacity="0.49"/><circle cx="55.1" cy="79.9" r="0.45" fill="#fff" fill-opacity="0.91"/><circle cx="66.4" cy="88.4" r="0.4" fill="#fff" fill-opacity="0.40"/></g></svg>
  <div class="abs" style="left:150.5px;top:0;width:146.5px;height:111px;background:radial-gradient(circle 16px at 77px 16px,rgba(120,210,255,0.18),rgba(0,0,0,0)),#0c9ee0"></div>
  <div class="abs" style="left:166px;top:23px;font-size:5.3px;font-weight:bold;color:#e8f4ff;letter-spacing:0.4px">ANNOUNCEMENT</div>
  <div class="abs" style="left:166px;top:35.8px;font-size:9.6px;font-weight:bold;color:#fff">Learn how to use apps</div>
  <div class="abs" style="left:166.3px;top:51.7px;font-size:6.8px;color:#d8efff;line-height:12px;letter-spacing:0.05px">Make solutions that are scalable, faster<br>and consistent.</div>
  <div class="abs" style="left:166px;top:88px;font-size:5.8px;font-weight:bold;color:#fff;letter-spacing:0.1px">READ DOCUMENTATION</div>
</div>

</body></html>
